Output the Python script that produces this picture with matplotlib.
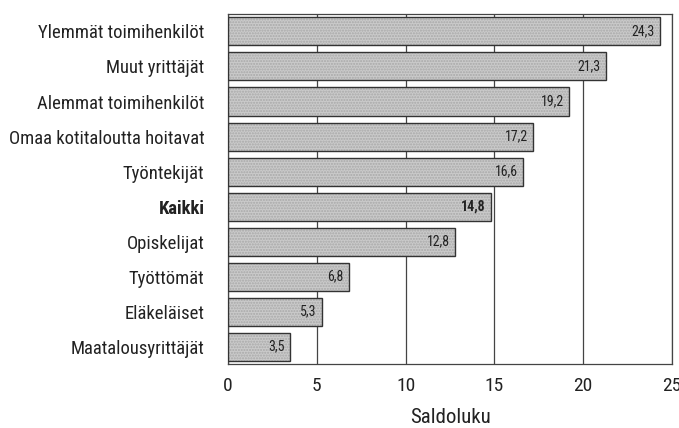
import matplotlib
matplotlib.use("Agg")
import matplotlib.pyplot as plt
from matplotlib import font_manager

categories = ["Ylemmät toimihenkilöt", "Muut yrittäjät", "Alemmat toimihenkilöt",
              "Omaa kotitaloutta hoitavat", "Työntekijät", "Kaikki", "Opiskelijat",
              "Työttömät", "Eläkeläiset", "Maatalousyrittäjät"]
values = [24.3, 21.3, 19.2, 17.2, 16.6, 14.8, 12.8, 6.8, 5.3, 3.5]
xticks = [0, 5, 10, 15, 20, 25]
bold_category = "Kaikki"

names = {f.name for f in font_manager.fontManager.ttflist}
fam = "DejaVu Sans"
for cand in ["Roboto Condensed", "Archivo Narrow", "PT Sans Narrow",
             "IBM Plex Sans Condensed", "Fira Sans Condensed"]:
    if cand in names:
        fam = cand
        break
plt.rcParams["font.family"] = [fam, "DejaVu Sans"]

fig = plt.figure(figsize=(6.79, 4.28), dpi=100)
ax = fig.add_axes([0.3358, 0.1495, 0.6539, 0.8178])

y = list(range(len(categories)))
# fill with fine dot texture, then dark outline
ax.barh(y, values, height=0.8, color="#cacaca", edgecolor="#a8a8a8",
        linewidth=0, hatch="......", zorder=3)
ax.barh(y, values, height=0.8, fill=False, edgecolor="#333333",
        linewidth=1.0, zorder=4)

ax.set_xlim(0, 25)
ax.set_ylim(len(categories) - 0.5, -0.5)
ax.set_xticks(xticks)
ax.set_xticklabels([str(t) for t in xticks], fontsize=14)
ax.set_yticks(y)
ax.set_yticklabels(categories, fontsize=13.4)
for lbl in ax.get_yticklabels():
    if lbl.get_text() == bold_category:
        lbl.set_fontweight("bold")
ax.tick_params(axis="both", length=0, colors="#222222")
ax.tick_params(axis="y", pad=17)
ax.tick_params(axis="x", pad=9)
ax.grid(axis="x", color="#444444", linewidth=0.9, zorder=1)
for s in ax.spines.values():
    s.set_color("#444444")
    s.set_linewidth(0.9)

for yi, v, c in zip(y, values, categories):
    ax.text(v - 0.3, yi, f"{v:.1f}".replace(".", ","), ha="right", va="center",
            fontsize=10, fontweight="bold" if c == bold_category else "normal",
            color="#222222", zorder=5)

ax.set_xlabel("Saldoluku", fontsize=15, labelpad=10, color="#222222")

fig.savefig("out.png", dpi=100)
